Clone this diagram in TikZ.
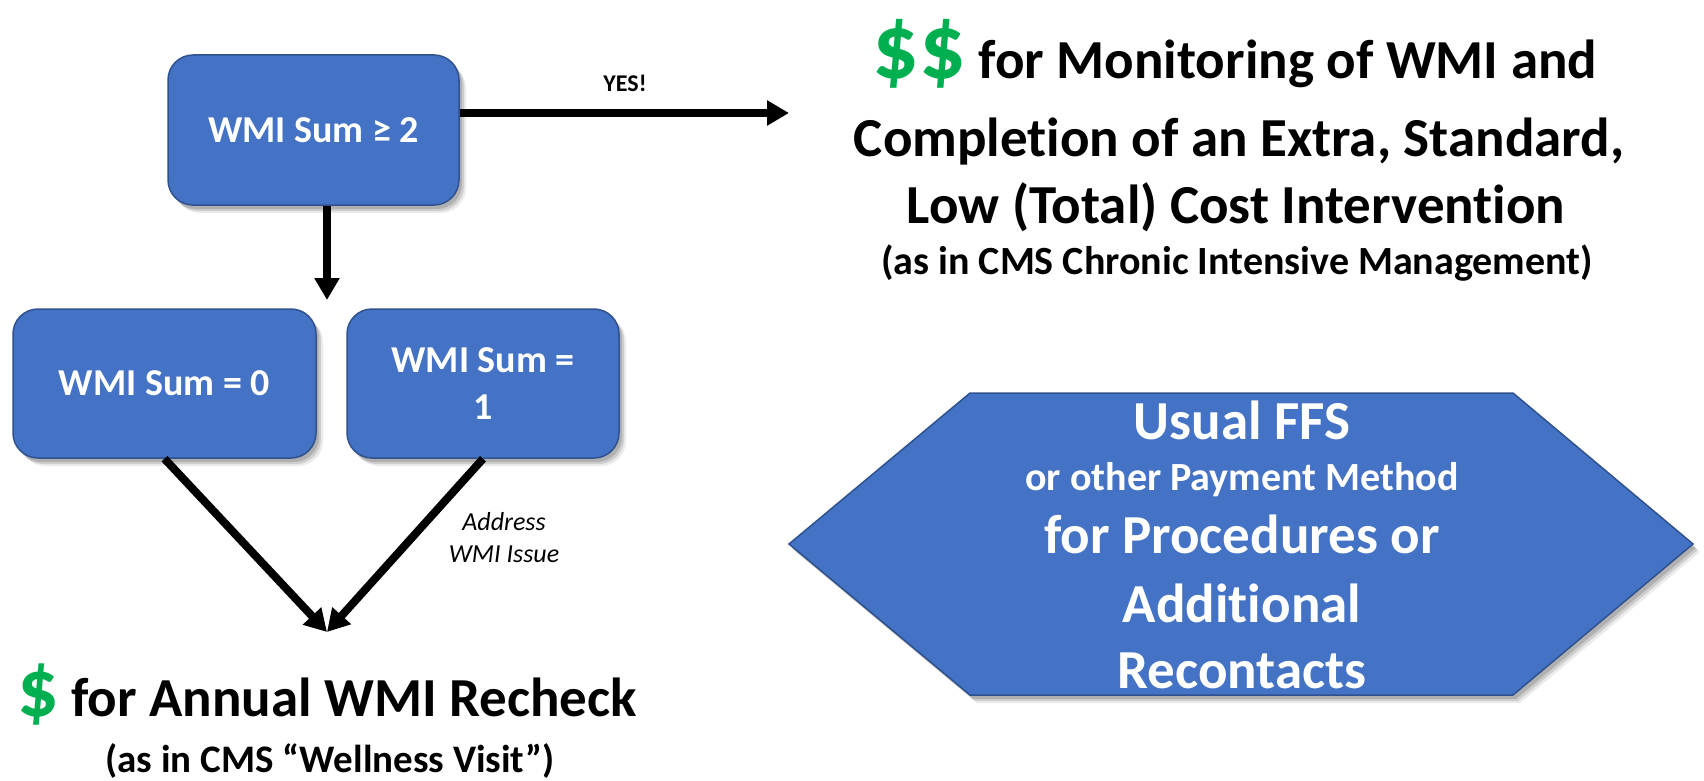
\documentclass[tikz,border=0pt]{standalone}
\usepackage{fontspec}
\setmainfont{Carlito}[Ligatures=NoCommon]
\usetikzlibrary{arrows.meta,shadows}
\definecolor{wmiblue}{HTML}{4472C4}
\definecolor{wmiedge}{HTML}{2F528F}
\definecolor{wmigreen}{HTML}{00B050}
\newcommand{\bucks}[2]{{\color{wmigreen}\fontsize{#1}{#1}\selectfont #2}}

\begin{document}
\begin{tikzpicture}[
  x=1pt, y=-1pt,
  >={Triangle[length=22pt, width=24pt]},
  every node/.style={font=\bfseries, inner sep=0pt},
  softshadow/.style={
    drop shadow={shadow xshift=3pt, shadow yshift=-4pt, opacity=0.15, fill=black},
    drop shadow={shadow xshift=5pt, shadow yshift=-6pt, opacity=0.12, fill=black},
    drop shadow={shadow xshift=7pt, shadow yshift=-8pt, opacity=0.08, fill=black}},
  wmibox/.style={rectangle, rounded corners=25pt, fill=wmiblue, draw=wmiedge, line width=1.5pt, text=white, align=center, font=\fontsize{38}{47}\selectfont\bfseries, softshadow},
  hexshape/.style={fill=wmiblue, draw=wmiedge, line width=1.5pt, softshadow},
  flow/.style={->, line width=8pt},
  bigtxt/.style={anchor=base, font=\fontsize{55}{66}\selectfont\bfseries},
  smalltxt/.style={anchor=base, font=\fontsize{40}{48}\selectfont\bfseries},
  notetxt/.style={anchor=base, font=\fontsize{26}{32}\selectfont\itshape},
]
\useasboundingbox (0,0) rectangle (1704,781);

% ---- WMI sum boxes ----
\node[wmibox, minimum width=291pt, minimum height=150pt] (sum2) at (313.5,130) {WMI Sum ≥ 2};
\node[wmibox, minimum width=303pt, minimum height=149pt] (sum0) at (164.5,383.5) {WMI Sum = 0};
\node[wmibox, minimum width=272pt, minimum height=149pt] (sum1) at (483,383.5) {WMI Sum =\\1};

% ---- free arrow ends ----
\coordinate (yesend) at (789,113);
\coordinate (downend) at (327,300);
\coordinate (recheck) at (327,632);

% ---- arrows ----
\draw[flow] (sum2.east |- yesend) -- (yesend);
\draw[flow] (sum2.south -| downend) -- (downend);
\draw[flow] (sum0.south) -- (recheck);
\draw[flow] (sum1.south) -- (recheck);

% ---- arrow labels ----
\node[anchor=base, font=\fontsize{24}{28}\selectfont\bfseries] (yes) at (625,92) {YES!};
\node[notetxt] (address) at (504,530) {Address};
\node[notetxt] (issue) at (504,562) {WMI Issue};

% ---- annual recheck payment ----
\node[bigtxt] (annual) at (327,716) {\bucks{82}{\$} for Annual WMI Recheck};
\node[smalltxt, font=\fontsize{39}{46}\selectfont\bfseries] (wellness) at (330,772) {(as in CMS “Wellness Visit”)};

% ---- monitoring payment ----
\node[bigtxt] (monitor) at (1235,79) {\bucks{92}{\$\$} for Monitoring of WMI and};
\node[bigtxt] (complete) at (1239,156) {Completion of an Extra, Standard,};
\node[bigtxt] (lowcost) at (1236,223) {Low (Total) Cost Intervention};
\node[smalltxt] (chronic) at (1237,274) {(as in CMS Chronic Intensive Management)};

% ---- usual FFS hexagon ----
\draw[hexshape] (789,544) -- (970,393) -- (1513,393) -- (1693,544) -- (1513,695) -- (970,695) -- cycle;
\node[bigtxt, text=white] (ffs) at (1242,439) {Usual FFS};
\node[smalltxt, text=white] (other) at (1242,490) {or other Payment Method};
\node[bigtxt, text=white] (proc) at (1242,553) {for Procedures or};
\node[bigtxt, text=white] (addl) at (1242,622) {Additional};
\node[bigtxt, text=white] (recon) at (1242,688) {Recontacts};

\end{tikzpicture}
\end{document}
